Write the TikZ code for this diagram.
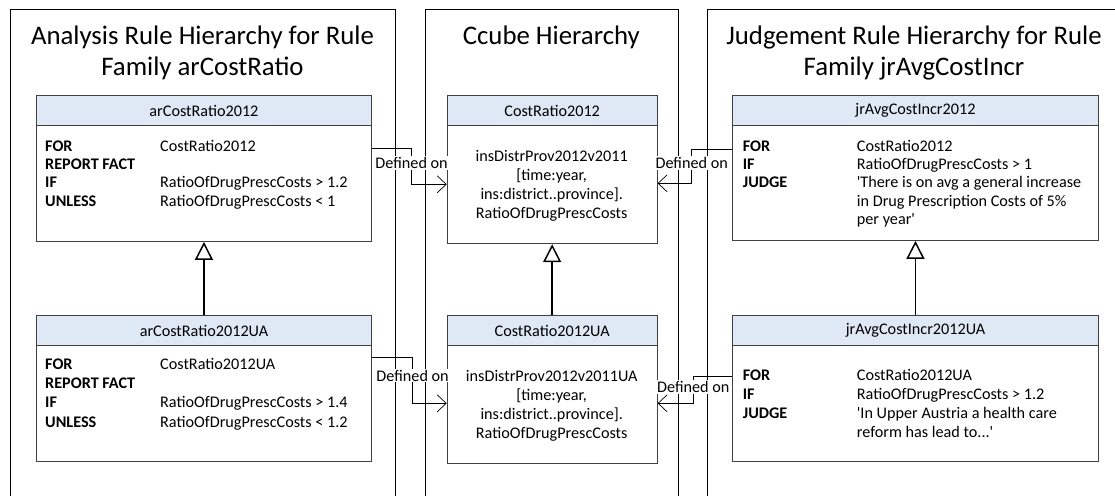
\documentclass[tikz,border=0pt]{standalone}
\usepackage{fontspec}
\usepackage{array}
\setmainfont{Carlito}
\usetikzlibrary{arrows.meta}

\definecolor{headfill}{HTML}{DFE8F5}
\definecolor{boxline}{HTML}{404040}

\newcommand\titlefont{\fontsize{26.8}{31}\selectfont}
\newcommand\bodyfont{\fontsize{16.2}{18.4}\selectfont}
\newcommand\bodyfontB{\fontsize{16.2}{19.2}\selectfont}
\newcommand\cubefont{\fontsize{16.2}{19}\selectfont}

\tikzset{
  panel/.style={draw=black, line width=0.9pt, anchor=north west, inner sep=0pt},
  boxbody/.style={draw=boxline, line width=0.9pt, fill=white, anchor=north west, inner sep=0pt},
  boxhead/.style={draw=boxline, line width=0.9pt, fill=headfill, anchor=north west,
    inner sep=0pt, minimum height=30.3pt, font=\bodyfont},
  heading/.style={font=\titlefont, inner sep=0pt, anchor=base},
  rules/.style={inner sep=0pt, anchor=base west},
  cubetext/.style={inner sep=0pt, anchor=base, font=\cubefont},
  defon/.style={draw=black, line width=0.7pt, -{Straight Barb[length=9pt,width=17pt]}},
  deflabel/.style={fill=white, inner sep=1pt, font=\bodyfont},
  inherit/.style={draw=black, line width=1.5pt, -{Triangle[open,length=18pt,width=18pt]}}
}

\begin{document}
\begin{tikzpicture}[x=1pt, y=-1pt]
\path[use as bounding box, clip] (0,0) rectangle (1115,495);

% swimlane panels (open towards the bottom)
\node[panel, minimum width=385pt, minimum height=520pt] (pl) at (10,9.5) {};
\node[panel, minimum width=252.7pt, minimum height=520pt] (pm) at (425,9.5) {};
\node[panel, minimum width=414pt, minimum height=520pt] (pr) at (707,9.5) {};

% panel headings
\node[heading] (tl) at (202.5,45) {\begin{tabular}[t]{@{}c@{}}Analysis Rule Hierarchy for Rule\\Family arCostRatio\end{tabular}};
\node[heading] (tm) at (551.3,44.5) {Ccube Hierarchy};
\node[heading] (tr) at (914,45) {\begin{tabular}[t]{@{}c@{}}Judgement Rule Hierarchy for Rule\\Family jrAvgCostIncr\end{tabular}};

% ---- analysis rules ----
\node[boxbody, minimum width=335pt, minimum height=146pt] (ar1) at (36,95) {};
\node[boxhead, minimum width=335pt] (ar1h) at (36,95) {arCostRatio2012};
\node[rules, font=\bodyfont] (ar1t) at (45,151) {\begin{tabular}[t]{@{}>{\bfseries}p{115pt}@{}l@{}}
FOR & CostRatio2012\\
REPORT FACT & \\
IF & RatioOfDrugPrescCosts > 1.2\\
UNLESS & RatioOfDrugPrescCosts < 1
\end{tabular}};

\node[boxbody, minimum width=335pt, minimum height=146pt] (ar2) at (36,315) {};
\node[boxhead, minimum width=335pt] (ar2h) at (36,315) {arCostRatio2012UA};
\node[rules, font=\bodyfontB] (ar2t) at (45,369.5) {\begin{tabular}[t]{@{}>{\bfseries}p{115pt}@{}l@{}}
FOR & CostRatio2012UA\\
REPORT FACT & \\
IF & RatioOfDrugPrescCosts > 1.4\\
UNLESS & RatioOfDrugPrescCosts < 1.2
\end{tabular}};

% ---- ccubes ----
\node[boxbody, minimum width=210pt, minimum height=148.3pt] (cr1) at (446.7,95) {};
\node[boxhead, minimum width=210pt] (cr1h) at (446.7,95) {CostRatio2012};
\node[cubetext] (cr1t) at (551.7,161) {\begin{tabular}[t]{@{}c@{}}
insDistrProv2012v2011\\
{[}time:year,\\
ins:district..province].\\
RatioOfDrugPrescCosts
\end{tabular}};

\node[boxbody, minimum width=210pt, minimum height=147.7pt] (cr2) at (446.7,315) {};
\node[boxhead, minimum width=210pt] (cr2h) at (446.7,315) {CostRatio2012UA};
\node[cubetext] (cr2t) at (551.7,381) {\begin{tabular}[t]{@{}c@{}}
insDistrProv2012v2011UA\\
{[}time:year,\\
ins:district..province].\\
RatioOfDrugPrescCosts
\end{tabular}};

% ---- judgement rules ----
\node[boxbody, minimum width=365.4pt, minimum height=145pt] (jr1) at (732.3,95) {};
\node[boxhead, minimum width=365.4pt] (jr1h) at (732.3,95) {jrAvgCostIncr2012};
\node[rules, font=\bodyfont] (jr1t) at (742.7,151) {\begin{tabular}[t]{@{}>{\bfseries}p{114pt}@{}l@{}}
FOR & CostRatio2012\\
IF & RatioOfDrugPrescCosts > 1\\
JUDGE & \textquotesingle There is on avg a general increase\\
 & in Drug Prescription Costs of 5\%\\
 & per year\textquotesingle
\end{tabular}};

\node[boxbody, minimum width=365.4pt, minimum height=145.7pt] (jr2) at (732.3,315) {};
\node[boxhead, minimum width=365.4pt] (jr2h) at (732.3,315) {jrAvgCostIncr2012UA};
\node[rules, font=\bodyfontB] (jr2t) at (742.7,380) {\begin{tabular}[t]{@{}>{\bfseries}p{114pt}@{}l@{}}
FOR & CostRatio2012UA\\
IF & RatioOfDrugPrescCosts > 1.2\\
JUDGE & \textquotesingle In Upper Austria a health care\\
 & reform has lead to...\textquotesingle
\end{tabular}};

% ---- specialisation ----
\draw[inherit] (ar2.north) -- (ar1.south);
\draw[inherit] (cr2.north) -- (cr1.south);
\draw[inherit] (jr2.north) -- (jr1.south);

% ---- "Defined on" links ----
\draw[defon] ([yshift=-53.7pt]ar1.north east) -- ++(39.7,0)
  |- node[deflabel, pos=0.2] (d1) {Defined on} ([yshift=-89.3pt]cr1.north west);
\draw[defon] ([yshift=-42.3pt]ar2.north east) -- ++(40.7,0)
  |- node[deflabel, pos=0.2] (d2) {Defined on} ([yshift=-88.3pt]cr2.north west);
\draw[defon] ([yshift=-54.7pt]jr1.north west) -- ++(-40.6,0)
  |- node[deflabel, pos=0.2] (d3) {Defined on} ([yshift=-88.3pt]cr1.north east);
\draw[defon] ([yshift=-61pt]jr2.north west) -- ++(-39,0)
  |- node[deflabel, pos=0.2] (d4) {Defined on} ([yshift=-88.3pt]cr2.north east);
\end{tikzpicture}
\end{document}
